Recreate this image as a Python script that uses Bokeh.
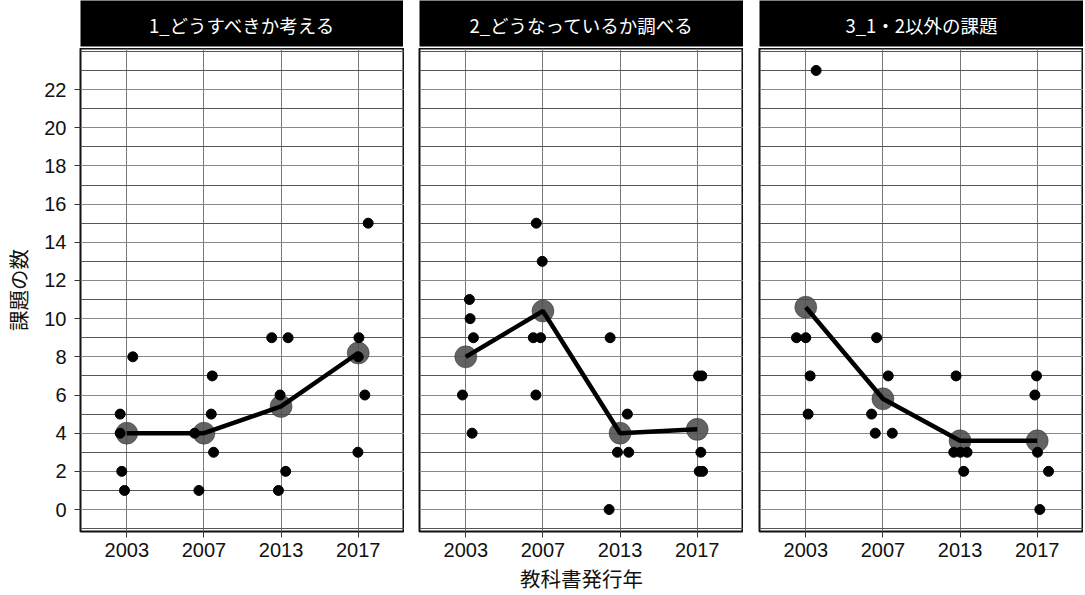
import numpy as np
from bokeh.plotting import figure
from bokeh.layouts import row, column
from bokeh.models import FixedTicker, Range1d
from bokeh.embed import file_html
from bokeh.resources import INLINE
from bokeh.core.properties import value

years = ["2003", "2007", "2013", "2017"]
titles = ["1_どうすべきか考える", "2_どうなっているか調べる", "3_1・2以外の課題"]
x_label = "教科書発行年"
y_label = "課題の数"
y_ticks = [0, 2, 4, 6, 8, 10, 12, 14, 16, 18, 20, 22]

# counts per textbook (one list per year), panel 1..3
counts_1 = [[8, 5, 4, 2, 1], [7, 5, 4, 3, 1], [9, 9, 6, 2, 1], [15, 9, 8, 6, 3]]
counts_2 = [[11, 10, 9, 6, 4], [15, 13, 9, 9, 6], [9, 5, 3, 3, 0], [7, 7, 3, 2, 2]]
counts_3 = [[23, 9, 9, 7, 5], [9, 7, 5, 4, 4], [7, 3, 3, 3, 2], [7, 6, 3, 2, 0]]

# horizontal jitter (in category units)
jitter_1 = [[0.078, -0.086, -0.086, -0.065, -0.030],
            [0.108, 0.095, -0.121, 0.125, -0.065],
            [-0.121, 0.091, -0.013, 0.060, -0.034],
            [0.129, 0.009, 0.0, 0.086, -0.004]]
jitter_2 = [[0.047, 0.056, 0.099, -0.043, 0.082],
            [-0.086, -0.009, -0.125, -0.030, -0.091],
            [-0.129, 0.095, -0.034, 0.112, -0.142],
            [0.017, 0.060, 0.047, 0.026, 0.069]]
jitter_3 = [[0.134, -0.121, 0.0, 0.056, 0.030],
            [-0.082, 0.069, -0.147, -0.099, 0.121],
            [-0.052, -0.082, 0.004, 0.091, 0.047],
            [-0.009, -0.030, 0.004, 0.147, 0.034]]

panels = [(counts_1, jitter_1), (counts_2, jitter_2), (counts_3, jitter_3)]
lefts = [79, 15, 16]

CJK = "Noto Sans CJK JP"
NUM = "Liberation Sans"
FW, FH = 324, 483


def header(title, left):
    h = figure(frame_width=FW, frame_height=46, x_range=Range1d(0, 1), y_range=Range1d(0, 1),
               x_axis_location=None, y_axis_location=None, output_backend="svg",
               toolbar_location=None, min_border_left=left, min_border_right=0,
               min_border_top=0, min_border_bottom=2)
    h.grid.visible = False
    h.background_fill_color = "black"
    h.border_fill_color = "white"
    h.outline_line_color = None
    h.text(x=[0.5], y=[0.47], text=[title], text_color="white", text_align="center",
           text_baseline="middle", text_font=value(CJK), text_font_size="18.5px")
    return h


def panel(counts, jitter, idx):
    first = idx == 0
    p = figure(frame_width=FW, frame_height=FH, x_range=Range1d(0.4, 4.6),
               y_range=Range1d(-1.15, 24.15), output_backend="svg", toolbar_location=None,
               y_axis_location="left" if first else None,
               min_border_left=lefts[idx], min_border_right=0,
               min_border_top=0, min_border_bottom=58)
    p.background_fill_color = "white"
    p.outline_line_color = "#111111"
    p.outline_line_width = 2

    p.xaxis.ticker = FixedTicker(ticks=[1, 2, 3, 4])
    p.xaxis.major_label_overrides = {i + 1: y for i, y in enumerate(years)}
    p.xgrid.ticker = FixedTicker(ticks=[1, 2, 3, 4])
    p.xgrid.grid_line_color = "#777777"
    p.xgrid.grid_line_width = 1

    yt = FixedTicker(ticks=y_ticks, minor_ticks=[-1] + [v + 1 for v in y_ticks] + [24])
    p.ygrid.ticker = yt
    p.ygrid.grid_line_color = "#888888"
    p.ygrid.grid_line_width = 1
    p.ygrid.minor_grid_line_color = "#555555"
    p.ygrid.minor_grid_line_width = 1

    for ax in p.axis:
        ax.axis_line_color = None
        ax.major_tick_out = 6
        ax.major_tick_in = 0
        ax.major_tick_line_color = "#333333"
        ax.minor_tick_line_color = None
        ax.major_label_text_font = NUM
        ax.major_label_text_font_size = "20px"
        ax.major_label_text_color = "#111111"
        ax.major_label_standoff = 5
    if first:
        p.yaxis.ticker = yt
        p.yaxis.axis_label = y_label
        p.yaxis.axis_label_text_font = CJK
        p.yaxis.axis_label_text_font_size = "20.5px"
        p.yaxis.axis_label_text_font_style = "normal"
        p.yaxis.axis_label_text_color = "#111111"
        p.yaxis.axis_label_standoff = 8
        p.yaxis.major_label_standoff = 8
    if idx == 1:
        p.xaxis.axis_label = x_label
        p.xaxis.axis_label_text_font = CJK
        p.xaxis.axis_label_text_font_size = "20.5px"
        p.xaxis.axis_label_text_font_style = "normal"
        p.xaxis.axis_label_text_color = "#111111"
        p.xaxis.axis_label_standoff = 3

    xs, ys = [], []
    for i, (vals, jit) in enumerate(zip(counts, jitter)):
        for v, j in zip(vals, jit):
            xs.append(i + 1 + j)
            ys.append(v)
    mx = [i + 1 for i in range(len(years))]
    my = [float(np.mean(v)) for v in counts]

    p.scatter(mx, my, size=22, fill_color="#4d4d4d", fill_alpha=0.88,
              line_color="#333333", line_alpha=0.5)
    p.line(mx, my, line_width=4.5, line_color="black")
    p.scatter(xs, ys, size=10, fill_color="black", line_color="black")
    return p


cols = []
for k, (c, j) in enumerate(panels):
    cols.append(column(header(titles[k], lefts[k]), panel(c, j, k), spacing=0))

layout = row(*cols, spacing=0)

open("out.html", "w").write(file_html(layout, INLINE))
